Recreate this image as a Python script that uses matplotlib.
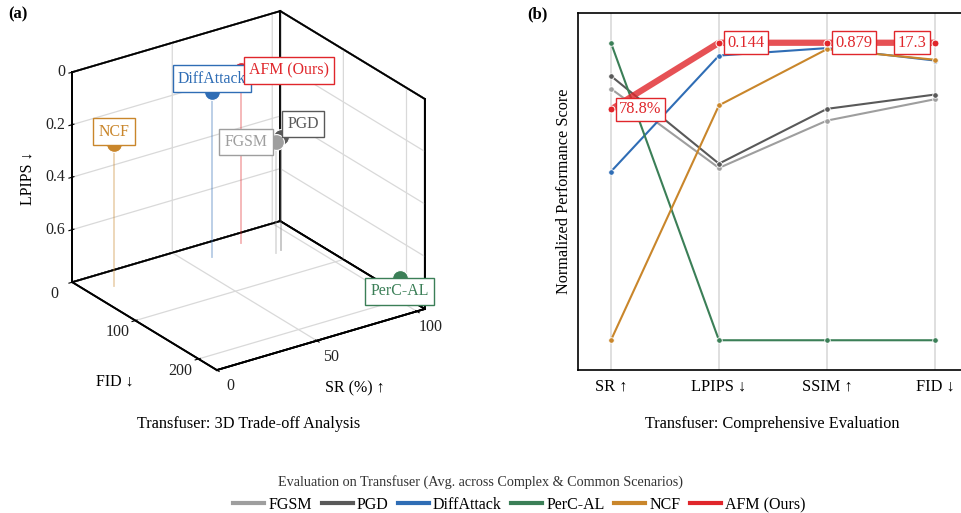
import numpy as np
import matplotlib
matplotlib.use('Agg')
import matplotlib.pyplot as plt
from mpl_toolkits.mplot3d import proj3d
from matplotlib.lines import Line2D

plt.rcParams['font.family'] = ['Liberation Serif', 'DejaVu Serif']
plt.rcParams['grid.color'] = '#d9d9d9'
plt.rcParams['grid.linewidth'] = 0.9

# ---------------- data ----------------
methods = ['FGSM', 'PGD', 'DiffAttack', 'PerC-AL', 'NCF', 'AFM (Ours)']
colors = ['#9e9e9e', '#595959', '#2f6db5', '#3b7f57', '#c9862b', '#e0262b']
sr = [84.8, 88.5, 60.8, 98.1, 12.0, 78.8]          # SR (%) higher better
lpips = [0.378, 0.370, 0.168, 0.700, 0.261, 0.144]  # lower better
ssim = [0.806, 0.817, 0.874, 0.600, 0.873, 0.879]   # higher better
fid = [53.5, 50.5, 28.7, 208.0, 28.2, 17.3]         # lower better
metric_names = ['SR ↑', 'LPIPS ↓', 'SSIM ↑', 'FID ↓']
higher_better = [True, False, True, False]
sr_ticks = [0, 50, 100]
fid_ticks = [0, 100, 200]
lpips_ticks = [0, 0.2, 0.4, 0.6]
lpips_ticklabels = ['0', '0.2', '0.4', '0.6']

fig = plt.figure(figsize=(9.61, 5.13), dpi=100)

# ---------------- (a) 3D ----------------
sr_lim = (0, 104)
fid_lim = (229, 0)
z_lim = (0.8, 0)
ax3 = fig.add_axes([0.023, 0.228, 0.46, 0.78], projection='3d')
ax3.set_proj_type('ortho')
ax3.view_init(elev=25, azim=-124.8)
ax3.set_box_aspect((1, 1, 0.915), zoom=1.035)
ax3.set_xlim(*sr_lim)
ax3.set_ylim(*fid_lim)
ax3.set_zlim(*z_lim)
ax3.set_xticks(sr_ticks)
ax3.set_yticks(fid_ticks)
ax3.set_zticks(lpips_ticks)
ax3.set_xticklabels([])
ax3.set_yticklabels([])
ax3.set_zticklabels([])
for axis in (ax3.xaxis, ax3.yaxis, ax3.zaxis):
    axis.set_pane_color((1, 1, 1, 1))
    axis.pane.set_edgecolor('black')
    axis.pane.set_linewidth(1.3)
    axis.line.set_color('black')
    axis.line.set_linewidth(1.3)

# box frame (back walls + floor outline), drawn over the grid
x0, x1 = sr_lim
yb, yf = fid_lim[1], fid_lim[0]
zb, zt = z_lim
frame_edges = [
    ((x0, x0), (yb, yb), (zb, zt)),
    ((x1, x1), (yb, yb), (zb, zt)),
    ((x1, x1), (yf, yf), (zb, zt)),
    ((x0, x1), (yb, yb), (zt, zt)),
    ((x1, x1), (yb, yf), (zt, zt)),
    ((x0, x1), (yb, yb), (zb, zb)),
    ((x1, x1), (yb, yf), (zb, zb)),
    ((x0, x0), (yb, yf), (zb, zb)),
    ((x0, x1), (yf, yf), (zb, zb)),
]
for ex, ey, ez in frame_edges:
    ax3.plot(ex, ey, ez, color='black', lw=1.3, zorder=1)

zbot = z_lim[0]
for i, m in enumerate(methods):
    ax3.plot([sr[i], sr[i]], [fid[i], fid[i]], [lpips[i], zbot],
             color=colors[i], alpha=0.35, lw=1.3)
    ax3.scatter([sr[i]], [fid[i]], [lpips[i]], s=130, color=colors[i],
                depthshade=False, edgecolors='white', linewidths=0.8)

M = ax3.get_proj()


def proj(x, y, z):
    x2, y2, _ = proj3d.proj_transform(x, y, z, M)
    return (x2, y2)


tick_kw = dict(textcoords='offset points', fontsize=11.5, color='#222222',
               annotation_clip=False)
for t in sr_ticks:
    ax3.annotate(str(t), xy=proj(t, fid_lim[0], zbot), xytext=(10, -11.5),
                 ha='center', va='center', **tick_kw)
for t in fid_ticks:
    ax3.annotate(str(t), xy=proj(sr_lim[0], t, zbot), xytext=(-13, -8.6),
                 ha='center', va='center', **tick_kw)
for t, lab in zip(lpips_ticks, lpips_ticklabels):
    ax3.annotate(lab, xy=proj(sr_lim[0], fid_lim[1], t), xytext=(-5, 0),
                 ha='right', va='center', **tick_kw)

fig.text(355 / 961, 1 - 388 / 513, 'SR (%) ↑', fontsize=11.5,
         ha='center', va='center')
fig.text(115 / 961, 1 - 382 / 513, 'FID ↓', fontsize=11.5,
         ha='center', va='center')
fig.text(28 / 961, 1 - 178 / 513, 'LPIPS ↓', fontsize=11.5, rotation=90,
         ha='center', va='center')

offsets = {
    'FGSM': ((-6, 0), 'right', 'center'),
    'PGD': ((4.5, 3.5), 'left', 'bottom'),
    'DiffAttack': ((0, 3.5), 'center', 'bottom'),
    'PerC-AL': ((0, -3.8), 'center', 'top'),
    'NCF': ((0, 3.5), 'center', 'bottom'),
    'AFM (Ours)': ((6, 0), 'left', 'center'),
}
for i, m in enumerate(methods):
    off, ha, va = offsets[m]
    ax3.annotate(m, xy=proj(sr[i], fid[i], lpips[i]), xytext=off,
                 textcoords='offset points',
                 ha=ha, va=va, fontsize=11.4, color=colors[i],
                 annotation_clip=False, zorder=10,
                 bbox=dict(boxstyle='square,pad=0.33', fc='white',
                           ec=colors[i], lw=1.0))

fig.text(8 / 961, 1 - 14 / 513, '(a)', fontsize=12, fontweight='bold',
         ha='left', va='center')
fig.text(249 / 961, 1 - 424 / 513, 'Transfuser: 3D Trade-off Analysis',
         fontsize=11.7, ha='center', va='center')

# ---------------- (b) parallel coordinates ----------------
axp = fig.add_axes([578 / 961, 1 - 370 / 513, 3.605 * 108 / 961, 357 / 513])
raw = [sr, lpips, ssim, fid]
norm = []
for vals, hb in zip(raw, higher_better):
    v = np.array(vals, dtype=float)
    n = (v - v.min()) / (v.max() - v.min())
    norm.append(n if hb else 1 - n)
norm = np.array(norm).T  # methods x metrics
xs = np.arange(len(metric_names))

for x in xs:
    axp.axvline(x, color='#dcdcdc', lw=1.3, zorder=0)

for i, m in enumerate(methods):
    if m == 'AFM (Ours)':
        axp.plot(xs, norm[i], color=colors[i], lw=4.5, alpha=0.8, zorder=5,
                 solid_capstyle='butt')
        axp.plot(xs, norm[i], ls='none', marker='o', ms=5, color=colors[i],
                 mec='white', mew=0.7, zorder=6)
    else:
        axp.plot(xs, norm[i], color=colors[i], lw=1.5, zorder=3,
                 marker='o', ms=4, mec='white', mew=0.6)

afm = methods.index('AFM (Ours)')
afm_txt = [f'{sr[afm]:.1f}%', f'{lpips[afm]:.3f}', f'{ssim[afm]:.3f}',
           f'{fid[afm]:.1f}']
for j, t in enumerate(afm_txt):
    if j == len(afm_txt) - 1:
        off, ha = (-6, 0), 'right'
    else:
        off, ha = (6, 0), 'left'
    axp.annotate(t, xy=(xs[j], norm[afm][j]), xytext=off,
                 textcoords='offset points', ha=ha, va='center',
                 fontsize=11.8, color=colors[afm], zorder=10,
                 bbox=dict(boxstyle='square,pad=0.2', fc='white',
                           ec=colors[afm], lw=1.0))

axp.set_xlim(-0.305, 3.3)
axp.set_ylim(-0.1, 1.1)
axp.set_xticks(xs)
axp.set_xticklabels(metric_names, fontsize=11.8)
axp.set_yticks([])
axp.tick_params(axis='x', length=0, pad=6)
axp.set_ylabel('Normalized Performance Score', fontsize=11.7)
for s in ['left', 'bottom', 'top']:
    axp.spines[s].set_linewidth(1.2)
axp.spines['right'].set_visible(False)

fig.text(527 / 961, 1 - 14 / 513, '(b)', fontsize=12, fontweight='bold',
         ha='left', va='center')
fig.text(772 / 961, 1 - 424 / 513, 'Transfuser: Comprehensive Evaluation',
         fontsize=11.7, ha='center', va='center')

# ---------------- legend ----------------
fig.text(0.5, 1 - 482 / 513,
         'Evaluation on Transfuser (Avg. across Complex & Common Scenarios)',
         fontsize=10.2, color='#333333', ha='center', va='center')
handles = [Line2D([], [], color=c, lw=3) for c in colors]
fig.legend(handles, methods, loc='center',
           bbox_to_anchor=(519.5 / 961, 1 - 505 / 513),
           ncol=6, frameon=False, fontsize=11.5, handlelength=1.94,
           handletextpad=0.25, columnspacing=0.6, borderpad=0.1)

fig.savefig('out.png', dpi=100)
